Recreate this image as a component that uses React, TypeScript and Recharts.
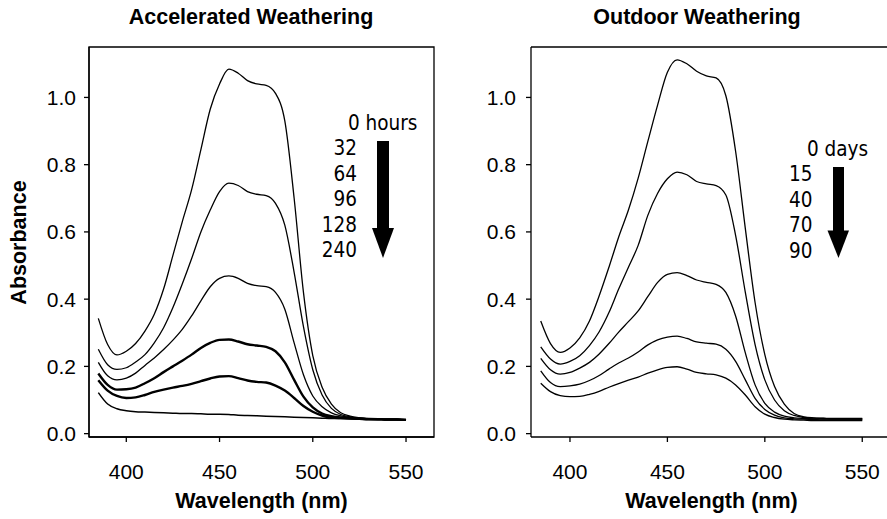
import React from "react";
import { LineChart, Line, XAxis, YAxis, ReferenceArea, ReferenceLine } from "recharts";

// wavelength grid (nm) shared by every spectrum
const wavelengths = [
  385, 390, 395, 400, 405, 410, 415, 420, 425, 430, 435, 440, 445, 450, 455, 460, 465,
  470, 475, 480, 485, 490, 495, 500, 505, 510, 515, 520, 525, 530, 535, 540, 545, 550,
];

// accelerated weathering, absorbance per exposure time
const hours0 = [
  0.343, 0.265, 0.234, 0.245, 0.268, 0.305, 0.355, 0.43, 0.53, 0.63, 0.725, 0.845, 0.965, 1.04, 1.084,
  1.072, 1.05, 1.04, 1.036, 1.012, 0.93, 0.7, 0.42, 0.232, 0.138, 0.088, 0.062, 0.052, 0.047, 0.044,
  0.043, 0.042, 0.042, 0.041,
];
const hours32 = [
  0.251, 0.205, 0.191, 0.196, 0.213, 0.235, 0.27, 0.315, 0.375, 0.445, 0.52, 0.6, 0.665, 0.72, 0.745,
  0.738, 0.72, 0.712, 0.708, 0.685, 0.62, 0.48, 0.318, 0.19, 0.115, 0.075, 0.057, 0.05, 0.046, 0.044,
  0.043, 0.042, 0.042, 0.041,
];
const hours64 = [
  0.212, 0.172, 0.16, 0.165, 0.18, 0.203, 0.225, 0.25, 0.278, 0.31, 0.35, 0.395, 0.437, 0.462, 0.469,
  0.462, 0.447, 0.44, 0.437, 0.42, 0.37, 0.27, 0.175, 0.112, 0.08, 0.062, 0.053, 0.048, 0.045, 0.044,
  0.043, 0.042, 0.042, 0.041,
];
const hours96 = [
  0.179, 0.145, 0.131, 0.132, 0.137, 0.15, 0.165, 0.183, 0.2, 0.217, 0.235, 0.255, 0.27, 0.279, 0.28,
  0.274, 0.266, 0.262, 0.258, 0.245, 0.212, 0.16, 0.11, 0.078, 0.06, 0.052, 0.048, 0.046, 0.045, 0.044,
  0.043, 0.042, 0.042, 0.041,
];
const hours128 = [
  0.159, 0.128, 0.112, 0.106, 0.108, 0.115, 0.124, 0.131, 0.137, 0.142, 0.148, 0.156, 0.164, 0.17, 0.171,
  0.165, 0.158, 0.154, 0.152, 0.143, 0.128, 0.106, 0.082, 0.065, 0.054, 0.048, 0.046, 0.045, 0.044, 0.043,
  0.043, 0.042, 0.042, 0.041,
];
const hours240 = [
  0.122, 0.088, 0.074, 0.068, 0.065, 0.064, 0.063, 0.062, 0.061, 0.06, 0.06, 0.059, 0.058, 0.058, 0.057,
  0.055, 0.054, 0.053, 0.052, 0.051, 0.05, 0.049, 0.048, 0.047, 0.046, 0.045, 0.045, 0.044, 0.043, 0.042,
  0.042, 0.042, 0.042, 0.041,
];

// outdoor weathering, absorbance per exposure time
const days0 = [
  0.335, 0.268, 0.242, 0.255, 0.285, 0.335, 0.41, 0.495, 0.585, 0.665, 0.76, 0.87, 0.978, 1.075, 1.112,
  1.1, 1.078, 1.064, 1.058, 1.005, 0.84, 0.61, 0.39, 0.235, 0.14, 0.088, 0.06, 0.05, 0.047, 0.046,
  0.045, 0.045, 0.045, 0.045,
];
const days15 = [
  0.258, 0.222, 0.207, 0.215, 0.232, 0.262, 0.303, 0.36, 0.43, 0.495, 0.56, 0.65, 0.715, 0.758, 0.778,
  0.77, 0.75, 0.743, 0.738, 0.71, 0.59, 0.42, 0.265, 0.16, 0.1, 0.068, 0.054, 0.048, 0.046, 0.045,
  0.044, 0.044, 0.044, 0.044,
];
const days40 = [
  0.224, 0.19, 0.177, 0.182, 0.195, 0.212, 0.237, 0.268, 0.302, 0.333, 0.365, 0.408, 0.45, 0.474, 0.479,
  0.47, 0.457, 0.45, 0.444, 0.42, 0.35, 0.24, 0.145, 0.09, 0.064, 0.052, 0.047, 0.045, 0.044, 0.043,
  0.043, 0.043, 0.043, 0.043,
];
const days70 = [
  0.187, 0.152, 0.14, 0.142, 0.147, 0.158, 0.173, 0.192, 0.21, 0.225, 0.243, 0.264, 0.279, 0.287, 0.29,
  0.283, 0.273, 0.269, 0.266, 0.251, 0.215, 0.16, 0.105, 0.072, 0.055, 0.047, 0.044, 0.043, 0.042, 0.041,
  0.041, 0.041, 0.041, 0.041,
];
const days90 = [
  0.15, 0.125, 0.113, 0.11, 0.111, 0.117, 0.126, 0.138, 0.149, 0.159, 0.168, 0.18, 0.19, 0.197, 0.199,
  0.192, 0.182, 0.178, 0.175, 0.165, 0.145, 0.115, 0.08, 0.058, 0.048, 0.043, 0.041, 0.04, 0.039, 0.039,
  0.039, 0.039, 0.039, 0.039,
];

const xTicks = [400, 450, 500, 550];
const yTicks = [0, 0.2, 0.4, 0.6, 0.8, 1.0];
const hourLabels = ["0 hours", "32", "64", "96", "128", "240"];
const dayLabels = ["0 days", "15", "40", "70", "90"];

const accelSeries = [
  { key: "h0", values: hours0, width: 1.3 },
  { key: "h32", values: hours32, width: 1.3 },
  { key: "h64", values: hours64, width: 1.3 },
  { key: "h96", values: hours96, width: 2.4 },
  { key: "h128", values: hours128, width: 2.4 },
  { key: "h240", values: hours240, width: 1.5 },
];
const outdoorSeries = [
  { key: "d0", values: days0, width: 1.3 },
  { key: "d15", values: days15, width: 1.3 },
  { key: "d40", values: days40, width: 1.3 },
  { key: "d70", values: days70, width: 1.3 },
  { key: "d90", values: days90, width: 1.3 },
];

type Series = { key: string; values: number[]; width: number };

function buildRows(series: Series[]) {
  return wavelengths.map((wl, i) => {
    const row: Record<string, number> = { wl };
    series.forEach((s) => (row[s.key] = s.values[i]));
    return row;
  });
}

const tickFont = { fill: "#000", fontSize: 21, fontFamily: "'Liberation Sans', Arial, sans-serif" };
const yDomain: [number, number] = [-0.01, 1.15];

function Panel({
  series,
  xDomain,
  yWidth,
  width,
  right,
  tickMargin,
  boxRight,
}: {
  series: Series[];
  xDomain: [number, number];
  yWidth: number;
  width: number;
  right: number;
  tickMargin: number;
  boxRight: boolean;
}) {
  const rows = buildRows(series);
  return (
    <LineChart width={width} height={519} data={rows} margin={{ top: 47, right, bottom: 42, left: 0 }}>
      <XAxis
        dataKey="wl"
        type="number"
        domain={xDomain}
        ticks={xTicks}
        allowDataOverflow
        stroke="#000"
        strokeWidth={1.3}
        tickSize={5}
        tickMargin={22}
        height={40}
        tick={tickFont}
      />
      <YAxis
        type="number"
        domain={yDomain}
        ticks={yTicks}
        allowDataOverflow
        tickFormatter={(v: number) => v.toFixed(1)}
        stroke="#000"
        strokeWidth={1.3}
        tickSize={5}
        tickMargin={tickMargin}
        width={yWidth}
        tick={tickFont}
      />
      {/* plot frame: full box on the left panel, top edge only where the right one is cut off */}
      {boxRight ? (
        <ReferenceArea
          x1={xDomain[0]}
          x2={xDomain[1]}
          y1={yDomain[0]}
          y2={yDomain[1]}
          fill="none"
          stroke="#000"
          strokeWidth={1.3}
          ifOverflow="visible"
        />
      ) : (
        <ReferenceLine y={yDomain[1]} stroke="#000" strokeWidth={1.3} ifOverflow="visible" />
      )}
      {series.map((s) => (
        <Line
          key={s.key}
          dataKey={s.key}
          type="monotone"
          stroke="#000"
          strokeWidth={s.width}
          dot={false}
          activeDot={false}
          isAnimationActive={false}
        />
      ))}
    </LineChart>
  );
}

const boldFont = "'Liberation Sans', Arial, sans-serif";
const legendFont = "'DejaVu Sans Condensed', 'DejaVu Sans', sans-serif";

export default function App() {
  return (
    <div style={{ position: "absolute", left: 0, top: 0, width: 887, height: 519, background: "#fff" }}>
      <div style={{ position: "absolute", left: 0, top: 0 }}>
        <Panel series={accelSeries} xDomain={[380, 565]} yWidth={89} width={440} right={6} tickMargin={8} boxRight />
      </div>
      <div style={{ position: "absolute", left: 450, top: 0 }}>
        <Panel series={outdoorSeries} xDomain={[380, 562.7]} yWidth={81} width={437} right={0} tickMargin={10} boxRight={false} />
      </div>
      <svg width={887} height={519} style={{ position: "absolute", left: 0, top: 0, pointerEvents: "none" }}>
        <g fontFamily={boldFont} fontWeight="bold" fontSize={21.5} fill="#000" textAnchor="middle">
          <text x={251} y={24}>Accelerated Weathering</text>
          <text x={697} y={24}>Outdoor Weathering</text>
          <text x={261.5} y={508}>Wavelength (nm)</text>
          <text x={711.5} y={508}>Wavelength (nm)</text>
          <text x={25.5} y={242.5} transform="rotate(-90 25.5 242.5)">Absorbance</text>
        </g>
        <g fontFamily={legendFont} fontStretch="condensed" fontSize={20.5} fill="#000">
          {hourLabels.map((t, i) =>
            i === 0 ? (
              <text key={t} x={348} y={130}>{t}</text>
            ) : (
              <text key={t} x={357} y={130 + i * 25.4} textAnchor="end">{t}</text>
            )
          )}
          {dayLabels.map((t, i) =>
            i === 0 ? (
              <text key={t} x={807} y={156}>{t}</text>
            ) : (
              <text key={t} x={789} y={156 + i * 25.4}>{t}</text>
            )
          )}
        </g>
        <g fill="#000">
          <rect x={377} y={141} width={12} height={88} />
          <polygon points="372,228 394,228 383,258" />
          <rect x={833} y={167} width={11} height={64} />
          <polygon points="827.5,230.5 849,230.5 838.5,258" />
        </g>
      </svg>
    </div>
  );
}
